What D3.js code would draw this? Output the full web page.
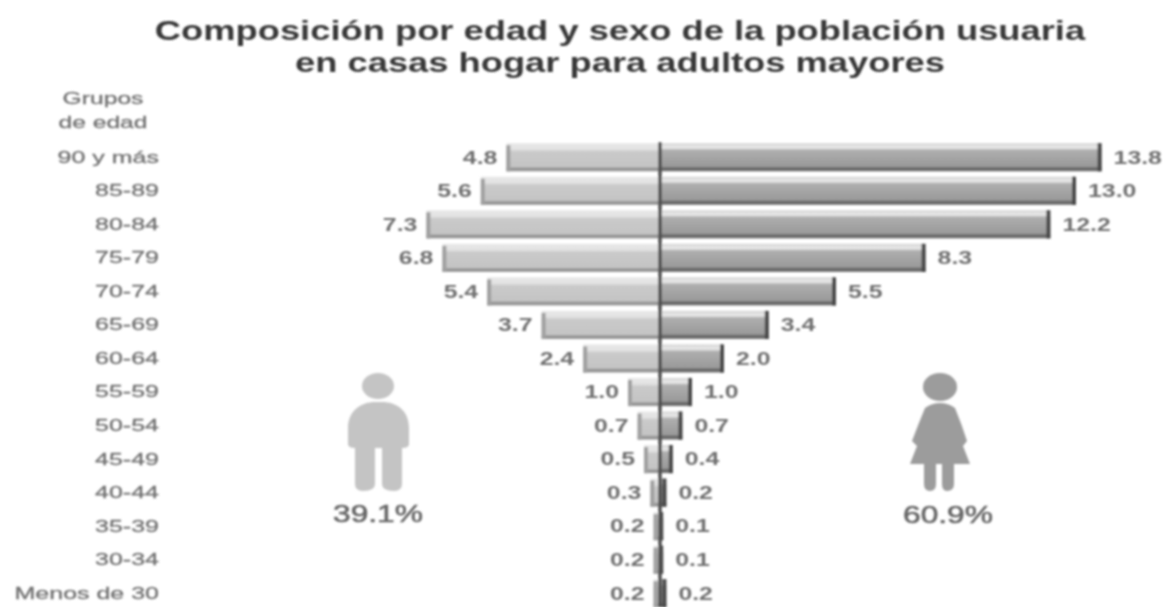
<!DOCTYPE html>
<html>
<head>
<meta charset="utf-8">
<script src="https://cdn.jsdelivr.net/npm/d3@7"></script>
<style>
html, body { margin: 0; padding: 0; background: #fff; }
svg { display: block; }
text { font-family: "Liberation Sans", Arial, sans-serif; }
</style>
</head>
<body>
<svg id="chart"></svg>
<script>
const titleLines = ["Composición por edad y sexo de la población usuaria", "en casas hogar para adultos mayores"]
const axisTitle = ["Grupos", "de edad"]
const groups = ["90 y más", "85-89", "80-84", "75-79", "70-74", "65-69", "60-64", "55-59", "50-54", "45-49", "40-44", "35-39", "30-34", "Menos de 30"]
const men = [4.8, 5.6, 7.3, 6.8, 5.4, 3.7, 2.4, 1.0, 0.7, 0.5, 0.3, 0.2, 0.2, 0.2]
const women = [13.8, 13.0, 12.2, 8.3, 5.5, 3.4, 2.0, 1.0, 0.7, 0.4, 0.2, 0.1, 0.1, 0.2]
const totals = ["39.1%", "60.9%"]

const width = 1169
const height = 607

const svg = d3.select("#chart").attr("width", width).attr("height", height)
const defs = svg.append("defs")

defs.append("filter").attr("id", "soft")
    .append("feGaussianBlur").attr("stdDeviation", 0.85)

const addGradient = (id, stops) => {
    const g = defs.append("linearGradient").attr("id", id)
        .attr("x1", 0).attr("y1", 0).attr("x2", 0).attr("y2", 1)
    stops.forEach(s => g.append("stop").attr("offset", s[0]).attr("stop-color", s[1]))
}
addGradient("menFill", [[0, "#e8e8e8"], [0.22, "#e2e2e2"], [0.3, "#cacaca"], [0.84, "#c4c4c4"], [0.9, "#909090"], [1, "#a0a0a0"]])
addGradient("womenFill", [[0, "#d4d4d4"], [0.16, "#eaeaea"], [0.26, "#aeaeae"], [0.82, "#9a9a9a"], [0.9, "#606060"], [1, "#808080"]])

// widen glyphs, the picture is stretched sideways
const stretch = (sel, k) => sel.each(function() {
    d3.select(this)
        .attr("textLength", this.getComputedTextLength() * k)
        .attr("lengthAdjust", "spacingAndGlyphs")
})

const x = d3.scaleLinear().domain([0, 1]).range([660, 692])
const y = d3.scaleBand().domain(groups).range([140.5, 610]).paddingInner(0.16).paddingOuter(0.08)
const mid = d => y(d) + y.bandwidth() / 2

const chart = svg.append("g").attr("filter", "url(#soft)")

// title
chart.append("g").selectAll("text").data(titleLines).enter().append("text")
    .attr("x", 620)
    .attr("y", (d, i) => 40 + i * 32)
    .attr("text-anchor", "middle")
    .attr("font-size", 27)
    .attr("font-weight", "bold")
    .attr("fill", "#383838")
    .text(d => d)
    .call(stretch, 1.345)

chart.append("g").selectAll("text").data(axisTitle).enter().append("text")
    .attr("x", 103)
    .attr("y", (d, i) => 104 + i * 24)
    .attr("text-anchor", "middle")
    .attr("font-size", 17)
    .attr("fill", "#707070")
    .attr("stroke", "#707070")
    .attr("stroke-width", 0.3)
    .text(d => d)
    .call(stretch, 1.45)

// group labels
const yAxis = d3.axisLeft(y).tickSize(0).tickPadding(0)
const axisG = chart.append("g").attr("transform", "translate(159,0)").call(yAxis)
axisG.select(".domain").remove()
axisG.selectAll("text")
    .attr("font-size", 17)
    .attr("fill", "#707070")
    .attr("stroke", "#707070")
    .attr("stroke-width", 0.3)
    .attr("text-anchor", "end")
    .attr("font-family", '"Liberation Sans", Arial, sans-serif')
    .call(stretch, 1.47)

// men, left side
const capW = 4
chart.append("g").selectAll("rect").data(men).enter().append("rect")
    .attr("x", d => x(-d))
    .attr("y", (d, i) => y(groups[i]))
    .attr("width", d => x(0) - x(-d))
    .attr("height", y.bandwidth())
    .attr("fill", "url(#menFill)")
chart.append("g").selectAll("rect").data(men).enter().append("rect")
    .attr("x", d => x(-d))
    .attr("y", (d, i) => y(groups[i]) + 2)
    .attr("width", capW)
    .attr("height", y.bandwidth() - 2)
    .attr("fill", "#a0a0a0")

// women, right side
chart.append("g").selectAll("rect").data(women).enter().append("rect")
    .attr("x", x(0))
    .attr("y", (d, i) => y(groups[i]))
    .attr("width", d => x(d) - x(0))
    .attr("height", y.bandwidth())
    .attr("fill", "url(#womenFill)")
chart.append("g").selectAll("rect").data(women).enter().append("rect")
    .attr("x", d => x(d) - capW)
    .attr("y", (d, i) => y(groups[i]))
    .attr("width", capW)
    .attr("height", y.bandwidth())
    .attr("fill", "#4a4a4a")

// center line
chart.append("line")
    .attr("x1", x(0)).attr("x2", x(0))
    .attr("y1", y(groups[0]) - 1).attr("y2", height)
    .attr("stroke", "#4f4f4f").attr("stroke-width", 3.5)

// value labels
const labelStyle = sel => sel
    .attr("font-size", 18)
    .attr("font-weight", "bold")
    .attr("fill", "#707070")
    .attr("dy", "0.35em")

chart.append("g").selectAll("text").data(men).enter().append("text")
    .attr("x", d => x(-d) - 9)
    .attr("y", (d, i) => mid(groups[i]))
    .attr("text-anchor", "end")
    .call(labelStyle)
    .text(d => d3.format(".1f")(d))
    .call(stretch, 1.38)

chart.append("g").selectAll("text").data(women).enter().append("text")
    .attr("x", d => x(d) + 12)
    .attr("y", (d, i) => mid(groups[i]))
    .call(labelStyle)
    .text(d => d3.format(".1f")(d))
    .call(stretch, 1.38)

// figures
const man = chart.append("g").attr("fill", "#c4c4c4")
man.append("ellipse").attr("cx", 378).attr("cy", 386).attr("rx", 16).attr("ry", 13)
man.append("path").attr("d", "M348 444 L348 428 C348 410 362 402 375 402 L382 402 C396 402 409 410 409 428 L409 444 Q409 448 402 448 L402 484 Q402 491 394 491 Q382 491 382 484 L382 448 L375 448 L375 484 Q375 491 363 491 Q355 491 355 484 L355 448 Q348 448 348 444 Z")

const woman = chart.append("g").attr("fill", "#9c9c9c")
woman.append("ellipse").attr("cx", 940).attr("cy", 387).attr("rx", 17).attr("ry", 14)
woman.append("path").attr("d", "M925 408 Q932 403 940 403 Q948 403 955 408 Q962 425 967 441 L963 446 L970 464 L954 464 L954 484 Q954 491 947 491 Q942 491 942 484 L942 464 L936 464 L936 484 Q936 491 930 491 Q924 491 924 484 L924 464 L910 464 L917 446 L912 441 Q918 425 925 408 Z")

chart.append("g").selectAll("text").data(totals).enter().append("text")
    .attr("x", (d, i) => i === 0 ? 378 : 948)
    .attr("y", (d, i) => i === 0 ? 522 : 523)
    .attr("text-anchor", "middle")
    .attr("font-size", 24)
    .attr("fill", "#666")
    .attr("stroke", "#666")
    .attr("stroke-width", 0.6)
    .text(d => d)
    .call(stretch, 1.32)
</script>
</body>
</html>
